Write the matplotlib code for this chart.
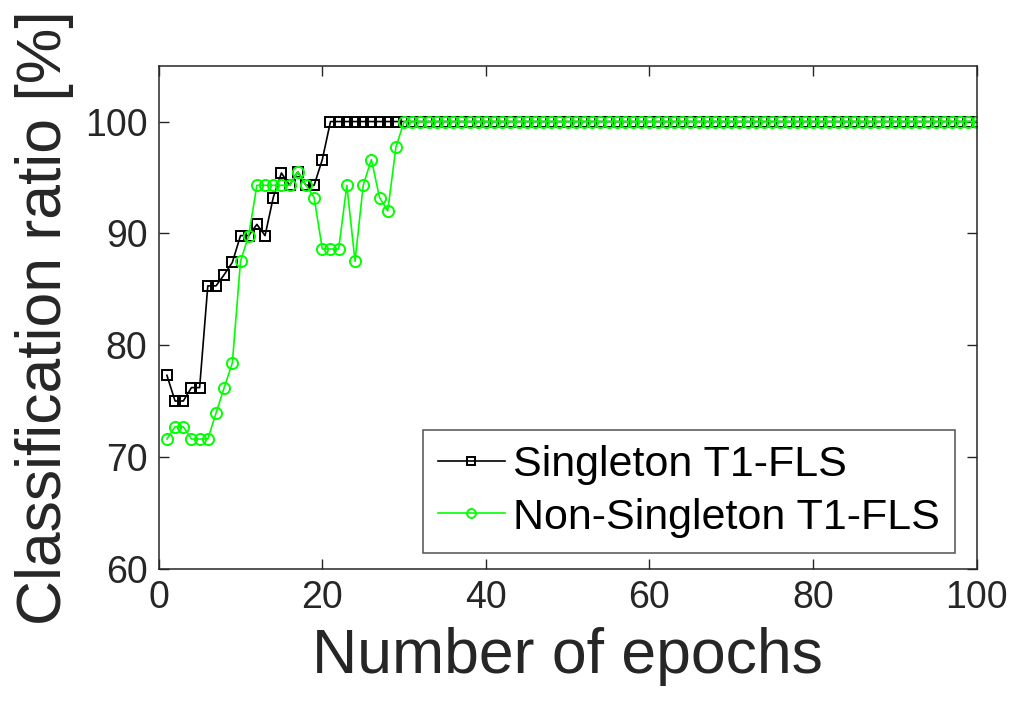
import numpy as np
import matplotlib.pyplot as plt

plt.rcParams['font.family'] = ['Liberation Sans', 'DejaVu Sans']

epochs = np.arange(1, 101)

singleton_head = [77.3, 75.0, 75.0, 76.2, 76.2, 85.3, 85.3, 86.3, 87.4, 89.8,
                  89.8, 90.8, 89.8, 93.2, 95.4, 94.3, 95.5, 94.3, 94.3, 96.6]
nonsingleton_head = [71.6, 72.7, 72.7, 71.6, 71.6, 71.6, 73.9, 76.2, 78.4, 87.5,
                     89.8, 94.3, 94.3, 94.3, 94.3, 94.3, 95.5, 94.3, 93.2, 88.6,
                     88.6, 88.6, 94.3, 87.5, 94.3, 96.6, 93.2, 92.0, 97.7]
singleton = singleton_head + [100.0] * (100 - len(singleton_head))
nonsingleton = nonsingleton_head + [100.0] * (100 - len(nonsingleton_head))

ax_col = '#262626'

fig = plt.figure(figsize=(10.11, 7.13), dpi=100)
ax = fig.add_axes([0.157, 0.2024, 0.809, 0.7055])

ax.plot(epochs, singleton, '-s', color='black', lw=1.2, ms=7, mfc='none',
        mew=1.4, label='Singleton T1-FLS')
ax.plot(epochs, nonsingleton, '-o', color='#00ff00', lw=1.2, ms=8, mfc='none',
        mew=1.4, label='Non-Singleton T1-FLS')

ax.set_xlim(0, 100)
ax.set_ylim(60, 105)
ax.set_xticks(np.arange(0, 101, 20))
ax.set_yticks(np.arange(60, 101, 10))
ax.tick_params(direction='in', length=7, width=1.0, colors=ax_col, labelsize=27,
               top=True, right=True, pad=8)
for s in ax.spines.values():
    s.set_color(ax_col)
    s.set_linewidth(1.1)

ax.set_xlabel('Number of epochs', fontsize=45, color=ax_col, labelpad=8)
ax.set_ylabel('Classification ratio [%]', fontsize=45, color=ax_col, labelpad=8)

leg = ax.legend(loc='lower right', fontsize=31, frameon=True, fancybox=False,
                edgecolor=ax_col, handlelength=1.55, handletextpad=0.2,
                borderpad=0.35, labelspacing=0.3, markerscale=0.8,
                borderaxespad=0, bbox_to_anchor=(0.974, 0.032))
leg.get_frame().set_linewidth(1.1)

fig.savefig('out.png', dpi=100)
